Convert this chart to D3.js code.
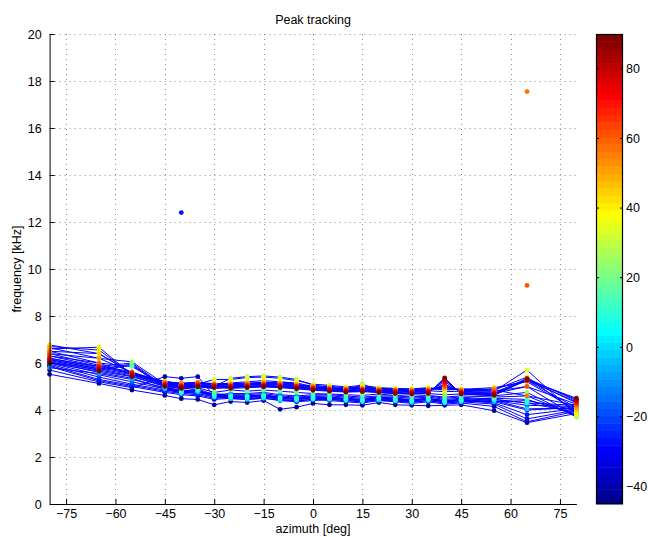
<!DOCTYPE html>
<html>
<head>
<meta charset="utf-8">
<script src="https://cdn.jsdelivr.net/npm/d3@7"></script>
<style>
  html, body { margin: 0; padding: 0; background: #fff; }
  svg text { font-family: "Liberation Sans", Arial, Helvetica, sans-serif; fill: #000; }
</style>
</head>
<body>
<svg id="chart" width="648" height="537"></svg>
<script>
// Azimuths (deg) of the measured directions
const azimuths = [-80, -65, -55, -45, -40, -35, -30, -25, -20, -15, -10, -5, 0, 5, 10, 15, 20, 25, 30, 35, 40, 45, 55, 65, 80];

// Elevations (deg), one tracked peak line per elevation
const elevations = [-45, -39.375, -33.75, -28.125, -22.5, -16.875, -11.25, -5.625, 0, 5.625, 11.25, 16.875,
  22.5, 28.125, 33.75, 39.375, 45, 50.625, 56.25, 61.875, 67.5, 73.125, 78.75, 84.375, 90];

// Peak frequency (kHz) per azimuth, one array per elevation
const peaks_e00 = [5.52, 5.13, 4.85, 4.62, 4.48, 4.45, 4.22, 4.36, 4.32, 4.40, 4.03, 4.12, 4.28, 4.22, 4.22, 4.20, 4.32, 4.22, 4.20, 4.18, 4.20, 4.22, 3.97, 3.46, 3.85];
const peaks_e01 = [5.70, 5.20, 4.95, 5.42, 5.35, 5.42, 4.60, 4.55, 4.48, 4.55, 4.45, 4.38, 4.45, 4.40, 4.35, 4.30, 4.40, 4.35, 4.28, 4.35, 4.25, 4.30, 4.15, 3.50, 3.95];
const peaks_e02 = [5.85, 5.25, 5.00, 4.75, 4.65, 4.60, 4.45, 4.50, 4.45, 4.50, 4.40, 4.35, 4.40, 4.45, 4.40, 4.35, 4.45, 4.40, 4.35, 4.40, 4.30, 4.35, 4.25, 3.62, 4.00];
const peaks_e03 = [5.90, 5.30, 5.05, 4.80, 4.70, 4.65, 4.50, 4.55, 4.55, 4.60, 4.50, 4.45, 4.50, 4.50, 4.45, 4.40, 4.50, 4.45, 4.40, 4.45, 4.35, 4.40, 4.30, 3.80, 4.05];
const peaks_e04 = [5.95, 5.40, 5.10, 4.85, 4.75, 4.70, 4.55, 4.60, 4.60, 4.65, 4.55, 4.50, 4.55, 4.55, 4.50, 4.45, 4.55, 4.50, 4.45, 4.50, 4.40, 4.45, 4.35, 4.00, 4.10];
const peaks_e05 = [6.00, 5.50, 5.20, 4.90, 4.80, 4.75, 4.60, 4.65, 4.65, 4.70, 4.60, 4.55, 4.60, 4.60, 4.55, 4.50, 4.55, 4.55, 4.50, 4.55, 4.45, 4.50, 4.40, 4.20, 4.15];
const peaks_e06 = [5.80, 5.55, 5.30, 4.95, 4.85, 4.80, 4.65, 4.70, 4.70, 4.75, 4.65, 4.60, 4.65, 4.65, 4.60, 4.55, 4.60, 4.60, 4.55, 4.60, 4.50, 4.55, 4.45, 4.30, 4.20];
const peaks_e07 = [6.05, 5.60, 5.35, 4.90, 4.72, 4.78, 4.70, 4.62, 4.58, 4.62, 4.55, 4.48, 4.58, 4.52, 4.48, 4.42, 4.50, 4.46, 4.40, 4.48, 4.38, 4.42, 4.35, 4.40, 4.00];
const peaks_e08 = [6.10, 5.70, 5.90, 4.95, 4.70, 4.80, 4.55, 4.48, 4.45, 4.50, 4.42, 4.40, 4.45, 4.45, 4.40, 4.35, 4.42, 4.38, 4.32, 4.40, 4.30, 4.35, 4.40, 4.05, 4.08];
const peaks_e09 = [6.15, 5.75, 5.95, 4.98, 4.75, 4.85, 4.60, 4.55, 4.52, 4.58, 4.48, 4.45, 4.50, 4.48, 4.45, 4.40, 4.48, 4.42, 4.38, 4.45, 4.35, 4.40, 4.45, 4.30, 3.90];
const peaks_e10 = [6.20, 5.85, 6.00, 5.00, 4.80, 4.90, 4.65, 4.60, 4.58, 4.62, 4.52, 4.50, 4.55, 4.52, 4.48, 4.45, 4.52, 4.48, 4.42, 4.48, 4.40, 4.45, 4.50, 4.45, 3.80];
const peaks_e11 = [6.30, 6.00, 5.85, 5.05, 4.90, 4.95, 4.75, 4.85, 4.80, 4.85, 4.80, 4.75, 4.70, 4.68, 4.65, 4.62, 4.68, 4.62, 4.58, 4.62, 4.55, 4.60, 4.55, 4.60, 3.75];
const peaks_e12 = [6.40, 6.20, 6.05, 5.10, 5.00, 5.00, 4.90, 5.00, 5.10, 5.15, 5.20, 5.10, 4.85, 5.05, 4.75, 5.12, 4.75, 4.70, 4.68, 4.70, 4.65, 4.68, 4.60, 4.75, 3.70];
const peaks_e13 = [6.50, 6.40, 5.55, 5.15, 5.05, 5.05, 5.00, 5.35, 5.42, 5.45, 5.40, 5.30, 5.05, 5.00, 4.95, 5.00, 4.90, 4.85, 4.80, 4.82, 4.78, 4.80, 4.70, 5.00, 3.72];
const peaks_e14 = [6.60, 6.67, 5.50, 5.20, 5.10, 5.10, 5.30, 5.30, 5.38, 5.40, 5.35, 5.25, 5.10, 5.05, 4.98, 5.05, 4.95, 4.92, 4.90, 4.95, 4.88, 4.90, 4.80, 5.70, 3.80];
const peaks_e15 = [6.70, 6.55, 5.52, 5.18, 5.08, 5.12, 5.08, 5.15, 5.20, 5.25, 5.20, 5.15, 5.00, 4.95, 4.92, 4.98, 4.92, 4.90, 4.88, 4.92, 4.85, 4.88, 4.85, 5.40, 3.90];
const peaks_e16 = [6.77, 6.40, 5.58, 5.22, 5.12, 5.15, 5.10, 5.12, 5.15, 5.18, 5.15, 5.10, 4.98, 4.92, 4.90, 4.95, 4.90, 4.88, 4.86, 4.90, 4.90, 4.88, 4.95, 5.20, 4.00];
const peaks_e17 = [6.65, 6.20, 5.60, 5.20, 5.15, 5.18, 5.12, 5.10, 5.12, 5.15, 5.12, 5.08, 5.00, 4.95, 4.90, 4.92, 4.88, 4.85, 4.85, 4.88, 4.95, 4.85, 4.90, 5.25, 4.10];
const peaks_e18 = [6.50, 6.00, 5.50, 5.15, 5.10, 5.15, 5.10, 5.08, 5.10, 5.12, 5.10, 5.05, 4.98, 4.92, 4.88, 4.90, 4.86, 4.83, 4.82, 4.85, 5.00, 4.82, 4.85, 4.60, 4.20];
const peaks_e19 = [6.40, 5.90, 5.62, 5.12, 5.05, 5.12, 5.08, 5.05, 5.08, 5.10, 5.08, 5.02, 4.95, 4.90, 4.86, 4.88, 4.84, 4.82, 4.80, 4.82, 5.05, 4.80, 4.80, 5.00, 4.25];
const peaks_e20 = [6.30, 5.85, 5.58, 5.10, 5.02, 5.08, 5.05, 5.02, 5.05, 5.08, 5.05, 5.00, 4.92, 4.88, 4.84, 4.86, 4.82, 4.80, 4.78, 4.80, 5.10, 4.78, 4.75, 5.30, 4.30];
const peaks_e21 = [6.20, 5.80, 5.55, 5.08, 5.00, 5.05, 5.02, 5.00, 5.02, 5.05, 5.02, 4.98, 4.90, 4.86, 4.82, 4.85, 4.80, 4.78, 4.75, 4.78, 5.20, 4.75, 4.70, 5.25, 4.35];
const peaks_e22 = [6.15, 5.75, 5.50, 5.05, 4.98, 5.02, 5.00, 4.98, 5.00, 5.02, 5.00, 4.95, 4.88, 4.84, 4.80, 4.82, 4.78, 4.75, 4.72, 4.75, 5.28, 4.72, 4.68, 5.35, 4.40];
const peaks_e23 = [6.05, 5.70, 5.45, 5.02, 4.95, 5.00, 4.98, 4.95, 4.98, 5.00, 4.98, 4.92, 4.86, 4.82, 4.78, 4.80, 4.76, 4.72, 4.70, 4.72, 5.32, 4.70, 4.65, 5.30, 4.45];
const peaks_e24 = [6.00, 5.65, 5.42, 5.00, 4.92, 4.98, 4.95, 4.92, 4.95, 4.98, 4.95, 4.90, 4.84, 4.80, 4.76, 4.78, 4.74, 4.70, 4.68, 4.70, 5.37, 4.68, 4.62, 5.28, 4.50];

const peakSeries = [peaks_e00, peaks_e01, peaks_e02, peaks_e03, peaks_e04, peaks_e05, peaks_e06, peaks_e07,
  peaks_e08, peaks_e09, peaks_e10, peaks_e11, peaks_e12, peaks_e13, peaks_e14, peaks_e15, peaks_e16,
  peaks_e17, peaks_e18, peaks_e19, peaks_e20, peaks_e21, peaks_e22, peaks_e23, peaks_e24];

// Peaks found away from the tracked lines
const strayAzimuth = [-40, 65, 65];
const strayFreq = [12.4, 17.55, 9.3];
const strayElevation = [-28.125, 56.25, 61.875];

// Axis ticks
const xTicks = [-75, -60, -45, -30, -15, 0, 15, 30, 45, 60, 75];
const yTicks = [0, 2, 4, 6, 8, 10, 12, 14, 16, 18, 20];
const cTicks = [-40, -20, 0, 20, 40, 60, 80];

const xDomain = [-80, 80];
const yDomain = [0, 20];
const cDomain = [-45, 90];

const svg = d3.select("#chart");
const plot = { left: 49.6, right: 576.4, top: 34, bottom: 504 };
const bar = { left: 596, right: 623, top: 34, bottom: 504 };

const x = d3.scaleLinear().domain(xDomain).range([plot.left, plot.right]);
const y = d3.scaleLinear().domain(yDomain).range([plot.bottom, plot.top]);
const c = d3.scaleLinear().domain(cDomain).range([bar.bottom, bar.top]);

// MATLAB-style jet colormap with 64 entries
function jetEntry(i) {
  const t = (i + 1) / 64;
  const f = v => Math.max(0, Math.min(1, v));
  const r = f(1.5 - Math.abs(4 * t - 3));
  const g = f(1.5 - Math.abs(4 * t - 2));
  const b = f(1.5 - Math.abs(4 * t - 1));
  return d3.rgb(r * 255, g * 255, b * 255).toString();
}
const jet = d3.range(64).map(jetEntry);
const colorOf = d3.scaleQuantize().domain(cDomain).range(jet);

const fs = 12.5;
const minus = d => d < 0 ? "\u2212" + Math.abs(d) : String(d);

// Dotted grid
const grid = svg.append("g").attr("stroke", "#8c8c8c").attr("stroke-width", 1).attr("stroke-dasharray", "1,4");
grid.selectAll(".gx").data(xTicks).join("line")
  .attr("x1", d => Math.round(x(d)) + 0.5).attr("x2", d => Math.round(x(d)) + 0.5)
  .attr("y1", plot.top).attr("y2", plot.bottom);
grid.selectAll(".gy").data(yTicks.filter(d => d > 0)).join("line")
  .attr("y1", d => Math.round(y(d)) + 0.5).attr("y2", d => Math.round(y(d)) + 0.5)
  .attr("x1", plot.left).attr("x2", plot.right);

// Tracked peak lines (all blue)
const line = d3.line().x((d, i) => x(azimuths[i])).y(d => y(d));
svg.append("g").selectAll("path").data(peakSeries).join("path")
  .attr("d", line).attr("fill", "none").attr("stroke", "#0000ff").attr("stroke-width", 1);

// Peak markers coloured by elevation
const markers = [];
peakSeries.forEach((s, k) => s.forEach((f, i) => markers.push({ az: azimuths[i], f, el: elevations[k] })));
strayAzimuth.forEach((a, i) => markers.push({ az: a, f: strayFreq[i], el: strayElevation[i] }));
svg.append("g").selectAll("circle").data(markers).join("circle")
  .attr("cx", d => x(d.az)).attr("cy", d => y(d.f)).attr("r", 2.4)
  .attr("fill", d => colorOf(d.el));

// Axes (box off: left and bottom only, ticks pointing inward)
const xAxis = d3.axisBottom(x).tickValues(xTicks).tickSizeInner(-5).tickSizeOuter(0)
  .tickPadding(5).tickFormat(minus);
const gx = svg.append("g").attr("transform", `translate(0,${plot.bottom})`).call(xAxis);

const yAxis = d3.axisLeft(y).tickValues(yTicks).tickSizeInner(-5).tickSizeOuter(0).tickPadding(8);
const gy = svg.append("g").attr("transform", `translate(${plot.left},0)`).call(yAxis);
[gx, gy].forEach(g => {
  g.select(".domain").attr("stroke", "#000");
  g.selectAll(".tick line").attr("stroke", "#000");
  g.selectAll("text").attr("font-size", fs).attr("font-family", "Liberation Sans, Arial, sans-serif");
});

// Title and axis labels
svg.append("text").attr("x", (plot.left + plot.right) / 2).attr("y", 24)
  .attr("text-anchor", "middle").attr("font-size", fs).text("Peak tracking");
svg.append("text").attr("x", (plot.left + plot.right) / 2).attr("y", 532.5)
  .attr("text-anchor", "middle").attr("font-size", fs).text("azimuth [deg]");
svg.append("text").attr("transform", `translate(21,${(plot.top + plot.bottom) / 2}) rotate(-90)`)
  .attr("text-anchor", "middle").attr("font-size", fs).text("frequency [kHz]");

// Colorbar
const step = (cDomain[1] - cDomain[0]) / 64;
svg.append("g").selectAll("rect").data(jet).join("rect")
  .attr("x", bar.left).attr("width", bar.right - bar.left)
  .attr("y", (d, i) => c(cDomain[0] + (i + 1) * step))
  .attr("height", (d, i) => c(cDomain[0] + i * step) - c(cDomain[0] + (i + 1) * step) + 0.5)
  .attr("fill", d => d);
svg.append("rect").attr("x", bar.left + 0.5).attr("y", bar.top + 0.5)
  .attr("width", bar.right - bar.left - 1).attr("height", bar.bottom - bar.top - 1)
  .attr("fill", "none").attr("stroke", "#000").attr("stroke-width", 1.2);
const ct = svg.append("g");
ct.selectAll(".tl").data(cTicks).join("line")
  .attr("x1", bar.left).attr("x2", bar.left + 3)
  .attr("y1", d => c(d)).attr("y2", d => c(d)).attr("stroke", "#000");
ct.selectAll(".tr").data(cTicks).join("line")
  .attr("x1", bar.right - 3).attr("x2", bar.right)
  .attr("y1", d => c(d)).attr("y2", d => c(d)).attr("stroke", "#000");
ct.selectAll("text").data(cTicks).join("text")
  .attr("x", bar.right + 3).attr("y", d => c(d)).attr("dy", "0.35em")
  .attr("font-size", fs).text(minus);
</script>
</body>
</html>
